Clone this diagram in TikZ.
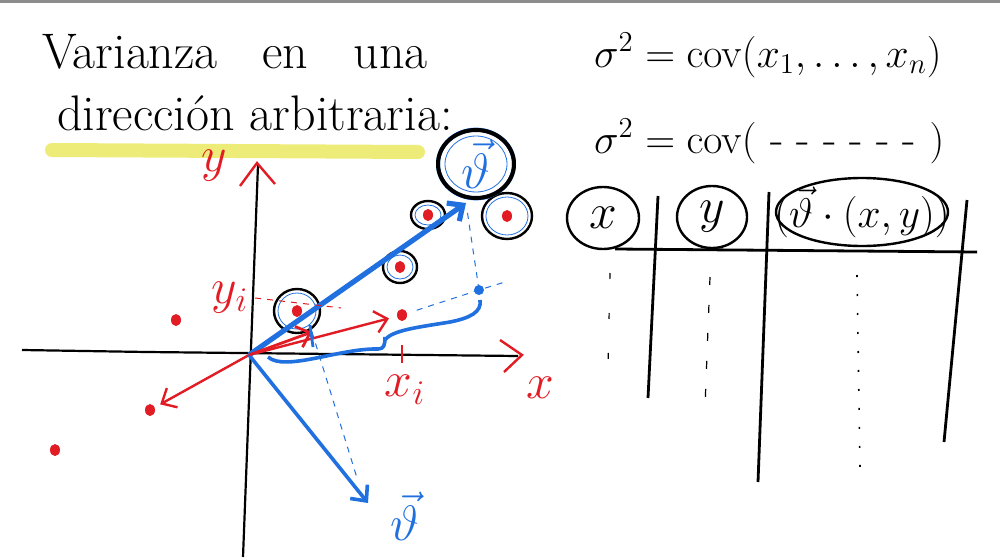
\documentclass[tikz,border=0pt]{standalone}
\usepackage{amsmath}
\usetikzlibrary{arrows.meta, shapes.geometric, positioning, calc}
\definecolor{penred}{RGB}{226,28,36}
\definecolor{penblue}{RGB}{32,112,224}
\definecolor{marker}{RGB}{238,236,120}

\begin{document}
\begin{tikzpicture}[
x=0.5pt, y=-0.5pt,
axis/.style={line width=1.1pt, black},
redpen/.style={penred, line width=1.2pt},
bluepen/.style={penblue, line width=1.8pt},
barb/.style={-{Straight Barb[length=6pt, width=11pt]}},
pt/.style={ellipse, fill=penred, inner sep=0pt, minimum width=5pt, minimum height=6pt},
ring/.style={ellipse, draw, line width=1.2pt, inner sep=0pt},
thinring/.style={ellipse, draw=penblue, line width=0.4pt, inner sep=0pt},
hand/.style={font=\fontsize{26}{30}\selectfont},
title/.style={font=\fontsize{25}{30}\selectfont, anchor=base west},
eq/.style={font=\fontsize{22}{26}\selectfont, anchor=base west},
rule/.style={line width=1.4pt, black}
]
\useasboundingbox (0,0) rectangle (1000,557);
\fill[white] (0,0) rectangle (1000,557);
\fill[black!45] (0,0) rectangle (1000,3);

% title
\draw[marker, line width=7pt, line cap=round] (52,150) -- (418,152);
\node[title] (title1) at (35,68) {Varianza\hspace{0.9em}en\hspace{0.9em}una};
\node[title] (title2) at (50,130) {dirección arbitraria:};

% axes
\coordinate (o) at (249,355);
\draw[axis] (22,350) -- (147,352) -- (518,356);
\draw[axis] (258,165) -- (243,557);
\draw[redpen] (500,340) -- (522,355) -- (504,372);
\draw[redpen] (240,186) -- (257,163) -- (275,184);
\node[hand, penred] (ylab) at (214,166) {$y$};
\node[hand, penred] (xlab) at (540,388) {$x$};
\node[hand, penred] (xilab) at (405,390) {$x_i$};
\node[hand, penred] (yilab) at (230,298) {$y_i$};
\draw[redpen] (402,345) -- (402,363);

% data points
\foreach \n/\px/\py in {1/297/311, 2/402/315, 3/400/267, 4/428/215, 5/507/216, 6/176/320, 7/150/410, 8/55/450}
  \node[pt] (p\n) at (\px,\py) {};
\foreach \n/\rx/\ry in {1/23/22, 3/17/16, 4/17/14, 5/25/23} {
  \node[ring, minimum width=\rx pt, minimum height=\ry pt] (r\n) at (p\n) {};
  \node[thinring, minimum width=\rx pt-4pt, minimum height=\ry pt-4pt] (b\n) at (p\n) {};
}

% vectors
\coordinate (vtip) at (466,203);
\coordinate (vend) at (368,503);
\coordinate (q) at (312,332);
\coordinate (bd) at (479,290);
\draw[redpen, barb, shorten >=4pt] (o) -- (p2);
\draw[redpen, barb, shorten >=3pt] (o) -- (p7);
\draw[penblue, line width=2.6pt, barb] (o) -- (vtip);
\draw[bluepen, barb] (o) -- (vend);
\draw[redpen, line width=1.4pt, barb] (o) -- (q);
\draw[bluepen, line width=1.4pt] (310,325) -- (313,347);
\node[hand, penblue] (vlab) at (405,516) {$\vec{\vartheta}$};

% projections
\draw[penblue, dashed, line width=0.5pt] (q) -- (357,478);
\draw[penred, dashed, line width=0.5pt, shorten >=28pt] (yilab.east) -- (p2);
\draw[penblue, dashed, line width=0.5pt, shorten <=5pt] (vtip) -- (bd);
\draw[penblue, dashed, line width=0.5pt, shorten <=5pt] (p2) -- (bd) -- (505,282);
\node[circle, fill=penblue, inner sep=0pt, minimum size=5pt] (bdot) at (bd) {};
\draw[bluepen] (268,357) .. controls (285,372) and (340,348) .. (378,349)
  .. controls (384,349) and (385,345) .. (385,337);
\draw[bluepen] (385,340) .. controls (392,330) and (420,327) .. (450,322)
  .. controls (470,318) and (482,312) .. (480,300);

% circled direction
\node[thinring, minimum width=31pt, minimum height=28pt] (vring) at (476,164) {};
\node[ellipse, draw, line width=2pt, minimum width=38pt, minimum height=34pt, inner sep=0pt, hand, penblue] (vcirc) at (476,164) {$\vec{\vartheta}$};
\node[ellipse, draw, line width=2pt, minimum width=38pt, minimum height=34pt] at (vcirc) {};

% formulas
\node[eq] (eq1) at (587,67) {$\sigma^2 = \mathrm{cov}(x_1, \ldots, x_n)$};
\node[eq] (eq2) at (587,153) {$\sigma^2 = \mathrm{cov}(\ \text{- - - - - -}\ )$};

% table
\node[ring, minimum width=36pt, minimum height=31pt, hand] (hx) at (603,218) {$x$};
\node[ring, minimum width=35pt, minimum height=31pt, hand] (hy) at (712,217) {$y$};
\node[font=\fontsize{22}{26}\selectfont] (hv) at (862,212) {$(\vec{\vartheta}\cdot(x,y))$};
\draw[line width=1.2pt] (hv) ellipse [x radius=43pt, y radius=17pt];
\draw[rule] (615,249) -- (977,252);
\draw[rule] (658,196) -- (648,398);
\draw[rule] (769,192) -- (758,482);
\draw[rule] (967,200) -- (944,442);
\draw[line width=0.6pt, dash pattern=on 3pt off 17pt] (610,273) -- (608,367);
\draw[line width=0.6pt, dash pattern=on 4pt off 10pt] (710,277) -- (705,407);
\draw[line width=0.8pt, dash pattern=on 1pt off 8.5pt] (857,275) -- (860,468);
\end{tikzpicture}
\end{document}
